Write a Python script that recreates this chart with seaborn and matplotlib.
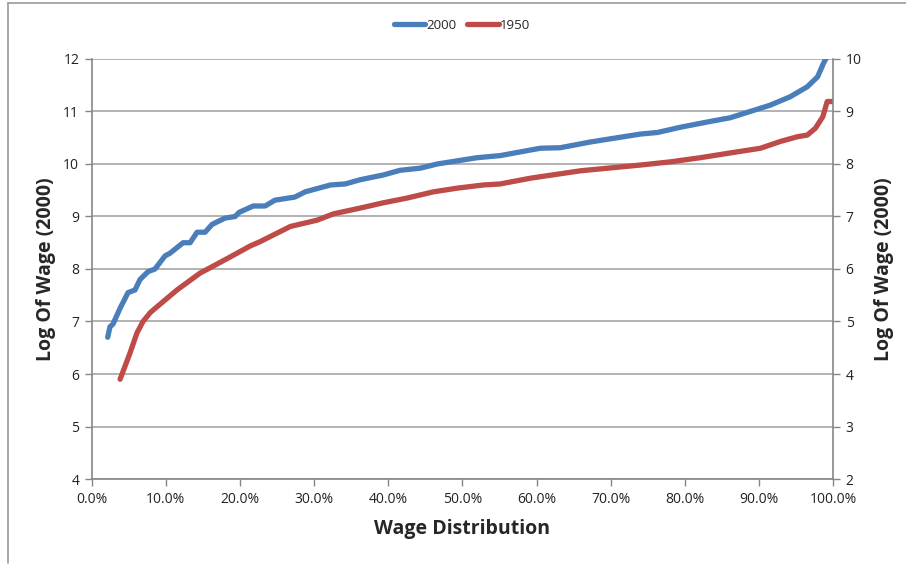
import matplotlib
matplotlib.use("Agg")
import matplotlib.pyplot as plt
from matplotlib.lines import Line2D
from matplotlib.ticker import PercentFormatter
import seaborn as sns
import pandas as pd

# Wage percentile (share of distribution) and log wage, year 2000 (left axis)
pct_2000 = [2.16, 2.47, 2.87, 3.82, 4.90, 5.84, 6.52, 7.60, 8.54, 9.89, 10.56,
            12.32, 13.27, 14.21, 15.29, 16.24, 17.99, 19.34, 19.9, 21.8, 23.4,
            24.7, 27.4, 28.8, 32.2, 34.2, 36.2, 39.3, 41.6, 44.3, 46.6, 49.3,
            52.0, 55.1, 60.5, 63.2, 67.3, 74.0, 76.3, 79.4, 83.4, 86.1, 88.8,
            91.5, 94.2, 96.5, 97.9, 98.7, 99.2]
log_wage_2000 = [6.70, 6.90, 6.95, 7.25, 7.55, 7.60, 7.80, 7.95, 8.00, 8.25, 8.30,
                 8.50, 8.50, 8.70, 8.70, 8.85, 8.97, 9.00, 9.08, 9.20, 9.20,
                 9.31, 9.37, 9.47, 9.60, 9.62, 9.70, 9.79, 9.88, 9.92, 10.00, 10.06,
                 10.12, 10.16, 10.30, 10.31, 10.42, 10.57, 10.60, 10.70, 10.81, 10.88, 11.00,
                 11.12, 11.28, 11.47, 11.66, 11.92, 12.05]

# Wage percentile and log wage, year 1950 (right axis)
pct_1950 = [3.83, 5.17, 6.10, 6.92, 7.90, 8.81, 11.5, 14.6, 18.3, 21.4, 22.7, 26.8, 30.4,
            32.6, 36.2, 39.3, 42.5, 46.1, 49.3, 52.8, 55.1, 59.2, 65.9, 74.0,
            78.0, 82.1, 86.1, 90.2, 92.9, 95.2, 96.5, 97.6, 98.6, 99.2, 100.0]
log_wage_1950 = [3.90, 4.40, 4.78, 5.00, 5.17, 5.28, 5.60, 5.92, 6.20, 6.44, 6.52, 6.81, 6.93,
                 7.05, 7.16, 7.26, 7.35, 7.47, 7.54, 7.60, 7.62, 7.73, 7.87, 7.98,
                 8.04, 8.12, 8.21, 8.30, 8.43, 8.52, 8.55, 8.68, 8.90, 9.19, 9.19]

left_ticks = [4, 5, 6, 7, 8, 9, 10, 11, 12]
right_ticks = [2, 3, 4, 5, 6, 7, 8, 9, 10]
x_ticks = [0, 10, 20, 30, 40, 50, 60, 70, 80, 90, 100]

df2000 = pd.DataFrame({"pct": pct_2000, "wage": log_wage_2000})
df1950 = pd.DataFrame({"pct": pct_1950, "wage": log_wage_1950})

sns.set_theme(style="white")
plt.rcParams["font.family"] = ["Open Sans", "DejaVu Sans"]

BLUE = "#4a7ebb"
RED = "#be4b48"
AXIS = "#868686"
GRID = "#a6a6a6"

fig = plt.figure(figsize=(9.06, 5.65), dpi=100)
ax = fig.add_axes([0.1012, 0.1522, 0.8184, 0.7434])
ax2 = ax.twinx()

for y in left_ticks:
    ax.axhline(y, color=GRID, lw=1.2, zorder=0)

sns.lineplot(data=df2000, x="pct", y="wage", ax=ax, color=BLUE, lw=3.8,
             label="2000", legend=False, solid_capstyle="round",
             solid_joinstyle="round", sort=False, estimator=None)
sns.lineplot(data=df1950, x="pct", y="wage", ax=ax2, color=RED, lw=3.8,
             label="1950", legend=False, solid_capstyle="round",
             solid_joinstyle="round", sort=False, estimator=None)

ax.set_xlim(0, 100)
ax.set_ylim(4, 12)
ax2.set_ylim(2, 10)
ax.set_xticks(x_ticks)
ax.xaxis.set_major_formatter(PercentFormatter(decimals=1))
ax.set_yticks(left_ticks)
ax2.set_yticks(right_ticks)

for a in (ax, ax2):
    for s in a.spines.values():
        s.set_visible(False)
    a.grid(False)
ax.spines["left"].set_visible(True)
ax.spines["left"].set_color(AXIS)
ax.spines["bottom"].set_visible(True)
ax.spines["bottom"].set_color(AXIS)
ax2.spines["right"].set_visible(True)
ax2.spines["right"].set_color(AXIS)
for s in ("left", "bottom"):
    ax.spines[s].set_linewidth(1.2)
ax2.spines["right"].set_linewidth(1.2)

ax.tick_params(axis="both", which="major", direction="out", length=5, width=1,
               color=AXIS, labelsize=10, labelcolor="#222222", pad=4,
               left=True, bottom=True)
ax2.tick_params(axis="y", direction="out", length=5, width=1, color=AXIS,
                labelsize=10, labelcolor="#222222", pad=4, right=True)

ax.set_xlabel("Wage Distribution", fontsize=14, fontweight="bold", labelpad=9)
ax.set_ylabel("Log Of Wage (2000)", fontsize=14, fontweight="bold", labelpad=5)
ax2.set_ylabel("Log Of Wage (2000)", fontsize=14, fontweight="bold", labelpad=9)

handles = [Line2D([0], [0], color=BLUE, lw=3.8, solid_capstyle="round"),
           Line2D([0], [0], color=RED, lw=3.8, solid_capstyle="round")]
fig.legend(handles, ["2000", "1950"], loc="center", bbox_to_anchor=(0.51, 0.955),
           ncol=2, frameon=False, fontsize=9.5, handlelength=2.4,
           handletextpad=0.1, columnspacing=0.8)

# chart frame
fig.add_artist(Line2D([0.009, 0.009], [0.003, 0.995], transform=fig.transFigure,
                      color="#9a9a9a", lw=1.2))
fig.add_artist(Line2D([0.009, 1.0], [0.995, 0.995], transform=fig.transFigure,
                      color="#9a9a9a", lw=1.2))

fig.savefig("out.png", dpi=100, facecolor="white")
